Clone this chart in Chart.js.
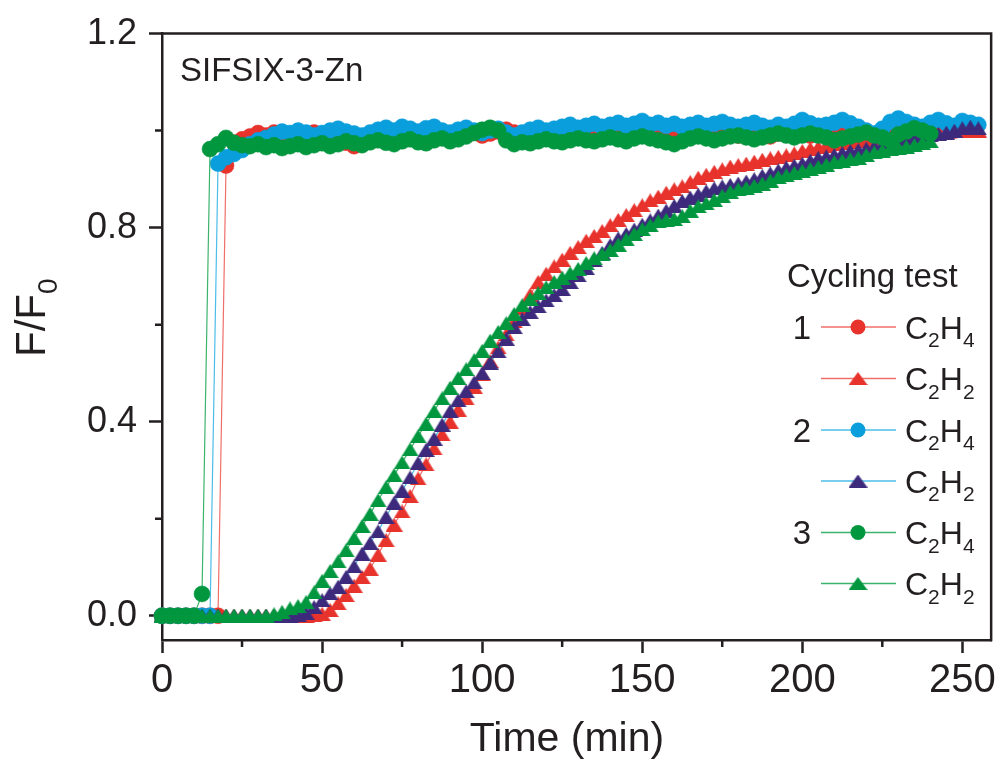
<!DOCTYPE html>
<html>
<head>
<meta charset="utf-8">
<script src="https://cdn.jsdelivr.net/npm/chart.js@4.4.0/dist/chart.umd.min.js"></script>
<style>
  html, body { margin: 0; padding: 0; background: #fff; }
  #wrap { width: 1000px; height: 762px; }
</style>
</head>
<body>
<div id="wrap"><canvas id="cycleChart" width="1000" height="762"></canvas></div>
<script>
// time axis (min), shared by all runs
const minutes = [
  0, 2.5, 5, 7.5, 10, 12.5, 15, 17.5, 20, 22.5,
  25, 27.5, 30, 32.5, 35, 37.5, 40, 42.5, 45, 47.5,
  50, 52.5, 55, 57.5, 60, 62.5, 65, 67.5, 70, 72.5,
  75, 77.5, 80, 82.5, 85, 87.5, 90, 92.5, 95, 97.5,
  100, 102.5, 105, 107.5, 110, 112.5, 115, 117.5, 120, 122.5,
  125, 127.5, 130, 132.5, 135, 137.5, 140, 142.5, 145, 147.5,
  150, 152.5, 155, 157.5, 160, 162.5, 165, 167.5, 170, 172.5,
  175, 177.5, 180, 182.5, 185, 187.5, 190, 192.5, 195, 197.5,
  200, 202.5, 205, 207.5, 210, 212.5, 215, 217.5, 220, 222.5,
  225, 227.5, 230, 232.5, 235, 237.5, 240, 242.5, 245, 247.5,
  250, 252.5, 255
];

// F/F0 for each cycle
const cycle1C2H4 = [
  0, 0, 0, 0, 0, 0, 0, 0, 0.928, 0.975,
  0.982, 0.988, 0.995, 0.99, 0.996, 0.99, 0.993, 0.986, 0.99, 0.996,
  0.992, 0.99, 0.984, 0.975, 0.968, 0.972, 0.985, 0.99, 0.994, 0.99,
  0.998, 0.992, 0.99, 0.996, 1.0, 0.994, 0.99, 0.995, 1.002, 0.996,
  0.99, 0.994, 0.998, 1.002, 0.996, 0.99, 0.995, 1.0, 0.994, 0.99,
  0.996, 1.0, 0.995, 0.99, 0.994, 0.998, 0.992, 0.996, 1.0, 0.995,
  0.99, 0.994, 0.998, 0.993, 0.99, 0.995, 1.0, 0.996, 0.992, 0.996,
  1.0, 0.995, 0.99, 0.994, 0.998, 0.992, 0.988, 0.994, 0.998, 1.002,
  0.996, 0.99, 0.994, 1.0, 0.996, 0.992, 0.996, 1.0, 0.995, 0.99,
  0.994, 0.998, 1.0, 0.996, 0.992, 0.996, 1.0, 1.002, 0.998, 1.0,
  1.002
];
const cycle1C2H2 = [
  0, 0, 0, 0, 0, 0, 0, 0, 0, 0,
  0, 0, 0, 0, 0, 0, 0, 0, 0, 0.001,
  0.004, 0.012, 0.026, 0.043, 0.062, 0.08, 0.097, 0.126, 0.156, 0.188,
  0.215, 0.247, 0.283, 0.312, 0.345, 0.374, 0.4, 0.425, 0.448, 0.472,
  0.498, 0.525, 0.553, 0.58, 0.607, 0.635, 0.662, 0.688, 0.705, 0.72,
  0.734, 0.748, 0.76, 0.773, 0.783, 0.793, 0.805, 0.816, 0.826, 0.836,
  0.846, 0.856, 0.864, 0.872, 0.879, 0.885, 0.894, 0.903, 0.909, 0.915,
  0.92, 0.926, 0.929, 0.932, 0.936, 0.94, 0.943, 0.946, 0.949, 0.953,
  0.958, 0.963, 0.966, 0.969, 0.972, 0.975, 0.977, 0.978, 0.98, 0.982,
  0.984, 0.986, 0.988, 0.99, 0.992, 0.994, 0.996, 0.998, 1.0, 1.0,
  1.002, 1.0, 1.0
];
const cycle2C2H4 = [
  0, 0, 0, 0, 0, 0, 0, 0.932, 0.945, 0.952,
  0.96, 0.972, 0.98, 0.985, 0.992, 0.998, 0.995, 1.0, 0.996, 0.99,
  0.995, 1.0, 1.004, 0.998, 0.994, 0.99, 0.996, 1.002, 1.006, 1.0,
  1.008, 1.004, 0.998, 1.005, 1.008, 1.0, 0.996, 1.002, 1.006, 1.0,
  0.995, 1.0, 1.004, 0.996, 0.99, 0.996, 1.002, 1.006, 1.0, 1.004,
  1.008, 1.012, 1.006, 1.01, 1.014, 1.008, 1.012, 1.016, 1.01, 1.014,
  1.02, 1.012, 1.016, 1.01, 1.014, 1.008, 1.012, 1.016, 1.01, 1.014,
  1.018, 1.012, 1.008, 1.012, 1.016, 1.01, 1.006, 1.012, 1.008, 1.014,
  1.022, 1.015, 1.01, 1.012, 1.016, 1.022, 1.015, 1.008, 1.0, 0.994,
  1.004, 1.018, 1.025, 1.018, 1.012, 1.008, 1.016, 1.022, 1.015, 1.01,
  1.02, 1.016, 1.012
];
const cycle2C2H2 = [
  0, 0, 0, 0, 0, 0, 0, 0, 0, 0,
  0, 0, 0, 0, 0, 0, 0, 0.002, 0.006, 0.018,
  0.032, 0.046, 0.06, 0.08, 0.102, 0.128, 0.15, 0.174, 0.204, 0.233,
  0.258, 0.285, 0.315, 0.342, 0.365, 0.394, 0.422, 0.444, 0.463, 0.481,
  0.5, 0.522, 0.545, 0.571, 0.595, 0.612, 0.626, 0.638, 0.65, 0.661,
  0.674, 0.688, 0.702, 0.717, 0.733, 0.748, 0.764, 0.778, 0.787, 0.796,
  0.806, 0.815, 0.825, 0.835, 0.845, 0.855, 0.862, 0.868, 0.875, 0.881,
  0.885, 0.888, 0.891, 0.895, 0.9, 0.907, 0.912, 0.918, 0.924, 0.928,
  0.932, 0.938, 0.944, 0.947, 0.95, 0.954, 0.958, 0.96, 0.963, 0.967,
  0.97, 0.974, 0.977, 0.98, 0.983, 0.986, 0.99, 0.993, 0.996, 1.0,
  1.005, 1.008, 1.005
];
const cycle3C2H4 = [
  0, 0, 0, 0, 0, 0.045, 0.962, 0.972, 0.985, 0.975,
  0.97, 0.968, 0.972, 0.966, 0.97, 0.964, 0.968, 0.972, 0.966, 0.97,
  0.974, 0.968, 0.972, 0.978, 0.974, 0.97, 0.976, 0.98, 0.975, 0.972,
  0.978, 0.982, 0.976, 0.974, 0.98, 0.984, 0.978, 0.982, 0.988, 0.995,
  1.002, 1.006, 1.0, 0.98, 0.972, 0.976, 0.974, 0.978, 0.982, 0.978,
  0.976, 0.98, 0.984, 0.98, 0.978, 0.982, 0.986, 0.982, 0.978, 0.984,
  0.988, 0.984, 0.98, 0.976, 0.972, 0.978, 0.984, 0.988, 0.984, 0.98,
  0.984, 0.988, 0.99, 0.986, 0.982, 0.986, 0.99, 0.994, 0.99, 0.986,
  0.99, 0.994, 0.99, 0.986, 0.98, 0.984, 0.988, 0.992, 0.996, 0.99,
  0.986, 0.98, 0.992, 0.998, 1.005, 1.0, 0.994
];
const cycle3C2H2 = [
  0, 0, 0, 0, 0, 0, 0, 0, 0, 0,
  0, 0, 0, 0, 0.003, 0.008, 0.015, 0.02, 0.028, 0.048,
  0.072, 0.092, 0.112, 0.135, 0.16, 0.185, 0.21, 0.238, 0.265, 0.29,
  0.316, 0.343, 0.37, 0.396, 0.422, 0.448, 0.47, 0.49, 0.508, 0.527,
  0.546, 0.567, 0.585, 0.603, 0.622, 0.64, 0.653, 0.665, 0.677, 0.688,
  0.697, 0.706, 0.715, 0.727, 0.737, 0.745, 0.754, 0.765, 0.776, 0.787,
  0.797, 0.805, 0.813, 0.816, 0.818, 0.824, 0.835, 0.844, 0.85, 0.857,
  0.866, 0.874, 0.879, 0.882, 0.886, 0.891, 0.897, 0.904, 0.908, 0.913,
  0.917, 0.921, 0.925, 0.93, 0.935, 0.938, 0.941, 0.944, 0.95, 0.955,
  0.959, 0.963, 0.965, 0.967, 0.97, 0.975, 0.978
];

const xTicks = [0, 50, 100, 150, 200, 250];
const xMinor = [25, 75, 125, 175, 225];
const yTicks = [0, 0.4, 0.8, 1.2];
const yMinor = [0.2, 0.6, 1.0];

const FONT = "'Liberation Sans', Arial, Helvetica, sans-serif";
const INK = '#231f20';

// flat triangle like the Origin symbol
function triangleMarker(color, w, h) {
  const cv = document.createElement('canvas');
  cv.width = w;
  cv.height = h;
  const g = cv.getContext('2d');
  g.fillStyle = color;
  g.beginPath();
  g.moveTo(w / 2, 0);
  g.lineTo(w, h);
  g.lineTo(0, h);
  g.closePath();
  g.fill();
  return cv;
}

// run label, gas, marker colour, line colour, marker shape
const series = [
  { run: '1', gas: 'C2H4', values: cycle1C2H4, mark: '#e8322c', line: '#ef6f6a', shape: 'circle' },
  { run: '',  gas: 'C2H2', values: cycle1C2H2, mark: '#e8322c', line: '#ef6f6a', shape: 'triangle' },
  { run: '2', gas: 'C2H4', values: cycle2C2H4, mark: '#0a9fdc', line: '#4cbdea', shape: 'circle' },
  { run: '',  gas: 'C2H2', values: cycle2C2H2, mark: '#3d2a7c', line: '#4cbdea', shape: 'triangle' },
  { run: '3', gas: 'C2H4', values: cycle3C2H4, mark: '#00973f', line: '#3cb36a', shape: 'circle' },
  { run: '',  gas: 'C2H2', values: cycle3C2H2, mark: '#00973f', line: '#3cb36a', shape: 'triangle' }
];
series.forEach(s => {
  if (s.shape === 'triangle') {
    s.plotMark = triangleMarker(s.mark, 17, 14);
    s.keyMark = triangleMarker(s.mark, 19, 13);
  }
});

const datasets = series.map((s, i) => ({
  label: s.run + ' ' + s.gas,
  data: s.values.map((v, k) => ({ x: minutes[k], y: v })),
  borderColor: s.line,
  borderWidth: 1.2,
  pointStyle: s.shape === 'circle' ? 'circle' : s.plotMark,
  pointRadius: 8,
  pointBackgroundColor: s.mark,
  pointBorderColor: s.mark,
  pointBorderWidth: 0.5,
  tension: 0,
  clip: false,
  order: series.length - i // later runs drawn on top
}));

// draws digits as subscripts (C2H4, F/F0)
function drawFormula(c, text, x, y, size) {
  let cx = x;
  for (const ch of text) {
    const sub = /[0-9]/.test(ch);
    c.font = (sub ? Math.round(size * 0.66) : size) + 'px ' + FONT;
    c.fillText(ch, cx, sub ? y + size * 0.28 : y);
    cx += c.measureText(ch).width;
  }
  return cx;
}

const decorPlugin = {
  id: 'decor',
  beforeDraw(chart) {
    const c = chart.ctx;
    c.save();
    c.fillStyle = '#fff';
    c.fillRect(0, 0, chart.width, chart.height);
    c.restore();
  },
  afterDraw(chart) {
    const c = chart.ctx, a = chart.chartArea;
    const xs = chart.scales.x, ys = chart.scales.y;
    c.save();
    c.strokeStyle = INK;
    c.lineWidth = 2.5;
    c.lineCap = 'square';
    // top + right frame
    c.beginPath();
    c.moveTo(a.left, a.top);
    c.lineTo(a.right, a.top);
    c.lineTo(a.right, a.bottom);
    c.stroke();
    // minor ticks
    c.lineCap = 'butt';
    c.beginPath();
    xMinor.forEach(v => {
      const p = xs.getPixelForValue(v);
      c.moveTo(p, a.bottom);
      c.lineTo(p, a.bottom + 7);
    });
    yMinor.forEach(v => {
      const p = ys.getPixelForValue(v);
      c.moveTo(a.left, p);
      c.lineTo(a.left - 7, p);
    });
    c.stroke();

    c.fillStyle = INK;
    c.textBaseline = 'alphabetic';
    // axis titles
    c.textAlign = 'center';
    c.font = '41px ' + FONT;
    c.fillText('Time (min)', 567, 751);
    c.textAlign = 'left';
    c.save();
    c.translate(45, 357);
    c.rotate(-Math.PI / 2);
    drawFormula(c, 'F/F0', 0, 0, 42);
    c.restore();

    // sample name
    c.font = '33px ' + FONT;
    c.fillText('SIFSIX-3-Zn', 180, 81);

    // legend
    c.font = '33px ' + FONT;
    c.fillText('Cycling test', 787, 287);
    const rowY = [327, 378.5, 430, 481, 532.5, 583.5];
    chart.data.datasets.forEach((ds, i) => {
      const s = series[i], y = rowY[i];
      c.strokeStyle = s.line;
      c.lineWidth = 1.6;
      c.beginPath();
      c.moveTo(821, y);
      c.lineTo(896, y);
      c.stroke();
      if (s.shape === 'circle') {
        c.fillStyle = s.mark;
        c.beginPath();
        c.arc(858, y, 7.5, 0, Math.PI * 2);
        c.fill();
      } else {
        c.drawImage(s.keyMark, 858 - s.keyMark.width / 2, y - s.keyMark.height / 2);
      }
      c.fillStyle = INK;
      if (s.run) {
        c.textAlign = 'right';
        c.font = '33px ' + FONT;
        c.fillText(s.run, 811, y + 11.5);
      }
      c.textAlign = 'left';
      drawFormula(c, s.gas, 905, y + 11.5, 32);
    });
    c.restore();
  }
};

const ctx = document.getElementById('cycleChart').getContext('2d');
new Chart(ctx, {
  type: 'line',
  data: { datasets: datasets },
  options: {
    responsive: false,
    animation: false,
    devicePixelRatio: 1,
    layout: { padding: { top: 32, right: 7, left: 0, bottom: 0 } },
    plugins: {
      legend: { display: false },
      tooltip: { enabled: false }
    },
    scales: {
      x: {
        type: 'linear',
        min: 0,
        max: 259,
        afterBuildTicks: s => { s.ticks = xTicks.map(v => ({ value: v })); },
        afterFit: s => { s.height = 122; },
        ticks: {
          autoSkip: false,
          maxRotation: 0,
          padding: 4,
          color: INK,
          font: { family: FONT, size: 40 },
          callback: v => String(v)
        },
        grid: { drawOnChartArea: false, drawTicks: true, tickLength: 13, tickWidth: 2.5, tickColor: INK },
        border: { display: true, color: INK, width: 2.5 }
      },
      y: {
        type: 'linear',
        min: -0.05,
        max: 1.2,
        afterBuildTicks: s => { s.ticks = yTicks.map(v => ({ value: v })); },
        afterFit: s => { s.width = 162; },
        ticks: {
          autoSkip: false,
          padding: 12,
          color: INK,
          font: { family: FONT, size: 36 },
          callback: v => v.toFixed(1)
        },
        grid: { drawOnChartArea: false, drawTicks: true, tickLength: 13, tickWidth: 2.5, tickColor: INK },
        border: { display: true, color: INK, width: 2.5 }
      }
    }
  },
  plugins: [decorPlugin]
});
</script>
</body>
</html>
